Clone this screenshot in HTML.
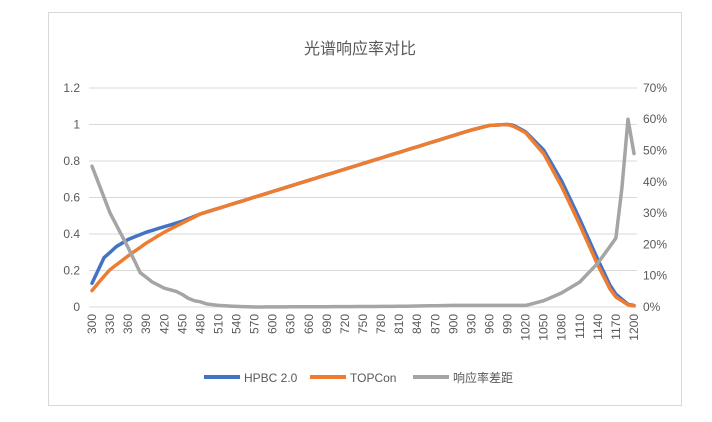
<!DOCTYPE html>
<html><head><meta charset="utf-8"><style>
body{margin:0;background:#fff;}
text{font-family:"Liberation Sans","Noto Sans CJK SC",sans-serif;fill:#595959;}
</style></head><body>
<svg id="s" width="712" height="417" xmlns="http://www.w3.org/2000/svg">
<rect x="0" y="0" width="712" height="417" fill="#fff"/>
<rect x="48.5" y="12.5" width="633" height="393" fill="none" stroke="#d9d9d9"/>
<text x="360" y="54" font-size="16" text-anchor="middle">光谱响应率对比</text>
<g id="g"></g>
<g font-size="12">
<line x1="204" y1="377" x2="240" y2="377" stroke="#4472c4" stroke-width="4"/>
<text x="244" y="382">HPBC 2.0</text>
<line x1="310" y1="377" x2="346" y2="377" stroke="#ed7d31" stroke-width="4"/>
<text x="350" y="382">TOPCon</text>
<line x1="413" y1="377" x2="449" y2="377" stroke="#a5a5a5" stroke-width="4"/>
<text x="453" y="382">响应率差距</text>
</g>
</svg>
<script>
const g=document.getElementById('g');let h='';
const X0=92,DX=6.022,Y0=307,PY=36.5/0.2,PR=31.3/10;
for(let i=0;i<=6;i++){const y=Y0-i*36.5;h+=`<line x1="89" x2="637" y1="${y}" y2="${y}" stroke="#d9d9d9"/>`;
h+=`<text x="80" y="${y+4}" font-size="12" text-anchor="end">${[0,0.2,0.4,0.6,0.8,1,1.2][i]}</text>`;}
for(let i=0;i<=7;i++){const y=Y0-i*31.3;h+=`<text x="643" y="${y+4}" font-size="12">${i*10}%</text>`;}
for(let w=300;w<=1200;w+=30){const x=X0+(w-300)/10*DX;h+=`<text transform="translate(${x+4},314) rotate(-90)" font-size="12" text-anchor="end">${w}</text>`;}
function interp(pts,w){for(let i=0;i<pts.length-1;i++){if(w>=pts[i][0]&&w<=pts[i+1][0]){const t=(w-pts[i][0])/(pts[i+1][0]-pts[i][0]);return pts[i][1]+t*(pts[i+1][1]-pts[i][1]);}}return pts[pts.length-1][1];}
const B=[[300,0.13],[320,0.27],[340,0.33],[360,0.37],[390,0.41],[420,0.44],[450,0.47],[480,0.51],[930,0.97],[960,0.995],[990,1.0],[1000,0.995],[1020,0.96],[1050,0.86],[1080,0.69],[1110,0.48],[1140,0.26],[1160,0.12],[1170,0.07],[1190,0.015],[1200,0.008]];
const O=[[300,0.09],[315,0.15],[330,0.205],[360,0.28],[390,0.35],[420,0.41],[450,0.46],[480,0.51],[930,0.97],[960,0.995],[990,1.0],[1000,0.99],[1020,0.955],[1050,0.84],[1080,0.66],[1110,0.45],[1140,0.23],[1160,0.1],[1170,0.055],[1190,0.012],[1200,0.006]];
const G=[[300,45],[330,30],[360,19],[380,11],[400,8],[420,6],[440,5],[455,3.5],[465,2],[475,2],[490,1],[510,0.5],[540,0.2],[570,0],[800,0.2],[900,0.5],[1020,0.5],[1050,2],[1080,4.5],[1110,8],[1140,14],[1170,22],[1180,38],[1190,60],[1200,49]];
function line(pts,sc,col){let p=[];for(let w=300;w<=1200;w+=10){p.push((X0+(w-300)/10*DX).toFixed(1)+','+(Y0-interp(pts,w)*sc).toFixed(1));}
return `<polyline points="${p.join(' ')}" fill="none" stroke="${col}" stroke-width="3.5" stroke-linejoin="round" stroke-linecap="round"/>`;}
h+=line(B,PY,'#4472c4')+line(O,PY,'#ed7d31')+line(G,PR,'#a5a5a5');
g.innerHTML=h;
</script>
</body></html>
